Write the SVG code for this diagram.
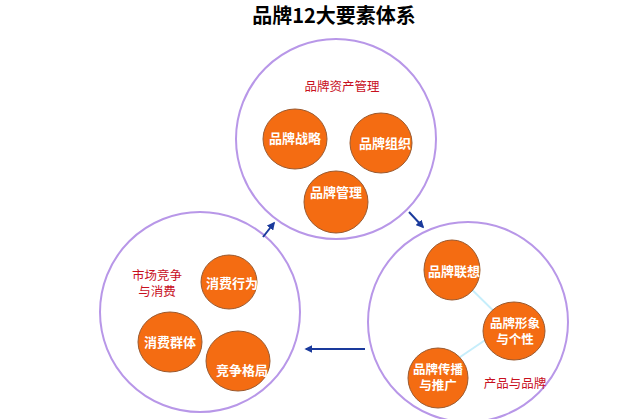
<svg xmlns="http://www.w3.org/2000/svg" width="640" height="419" viewBox="0 0 640 419">
<defs>
<style>
.big{fill:#fff;stroke:#b897e8;stroke-width:2}
.node{fill:#f46c12;stroke:#9a5a30;stroke-width:1}
.nt{fill:#fff;font-family:"Liberation Sans","Noto Sans CJK SC",sans-serif;font-weight:bold;font-size:13px;text-anchor:middle}
.nt2{fill:#fff;font-family:"Liberation Sans","Noto Sans CJK SC",sans-serif;font-weight:bold;font-size:12.5px;text-anchor:middle}
.lbl{fill:#c8101e;font-family:"Liberation Sans","Noto Sans CJK SC",sans-serif;font-size:12.5px;text-anchor:middle}
.arr{stroke:#1a3a9c;stroke-width:2;fill:none;marker-end:url(#ah)}
.cy{stroke:#c6eefb;stroke-width:2}
</style>
<marker id="ah" viewBox="0 0 10 10" refX="8" refY="5" markerWidth="4" markerHeight="4" orient="auto"><path d="M0,0L10,5L0,10z" fill="#1a3a9c"/></marker>
</defs>
<rect width="640" height="419" fill="#fff"/>
<text x="334" y="23" font-family="'Noto Sans CJK SC',sans-serif" font-weight="bold" font-size="20" text-anchor="middle" fill="#000">品牌12大要素体系</text>
<g id="circle-top"><circle class="big" cx="336" cy="139" r="100"/><text class="lbl" x="342" y="91">品牌资产管理</text></g>
<g id="circle-left"><circle class="big" cx="200" cy="312" r="100"/><text class="lbl" x="157" y="280">市场竞争</text><text class="lbl" x="157" y="296">与消费</text></g>
<g id="circle-right"><circle class="big" cx="468" cy="322" r="100"/><text class="lbl" x="515" y="388">产品与品牌</text></g>
<g id="connectors">
<line class="arr" x1="263" y1="237" x2="274" y2="223"/>
<line class="arr" x1="409" y1="212" x2="423" y2="227"/>
<line class="arr" x1="365" y1="349" x2="306" y2="349"/>
<line class="cy" x1="452" y1="270" x2="514" y2="331"/>
<line class="cy" x1="500" y1="330" x2="438" y2="372"/>
</g>
<g id="n1"><ellipse class="node" cx="295" cy="139" rx="32" ry="30"/><text class="nt" x="295" y="143">品牌战略</text></g>
<g id="n2"><ellipse class="node" cx="381" cy="143" rx="31" ry="30"/><text class="nt" x="385" y="148">品牌组织</text></g>
<g id="n3"><ellipse class="node" cx="336" cy="202" rx="32" ry="31"/><text class="nt" x="336" y="197">品牌管理</text></g>
<g id="n4"><ellipse class="node" cx="229" cy="282" rx="28" ry="27"/><text class="nt" x="232" y="288">消费行为</text></g>
<g id="n5"><ellipse class="node" cx="170" cy="342" rx="32" ry="30"/><text class="nt" x="170" y="347">消费群体</text></g>
<g id="n6"><ellipse class="node" cx="238" cy="361" rx="32" ry="30"/><text class="nt" x="242" y="375">竞争格局</text></g>
<g id="n7"><ellipse class="node" cx="452" cy="270" rx="28" ry="30"/><text class="nt" x="454" y="276">品牌联想</text></g>
<g id="n8"><ellipse class="node" cx="514" cy="331" rx="31" ry="29"/><text class="nt2" x="515" y="328">品牌形象</text><text class="nt2" x="515" y="344">与个性</text></g>
<g id="n9"><ellipse class="node" cx="438" cy="378" rx="30" ry="30"/><text class="nt2" x="438" y="374">品牌传播</text><text class="nt2" x="438" y="390">与推广</text></g>
</svg>
